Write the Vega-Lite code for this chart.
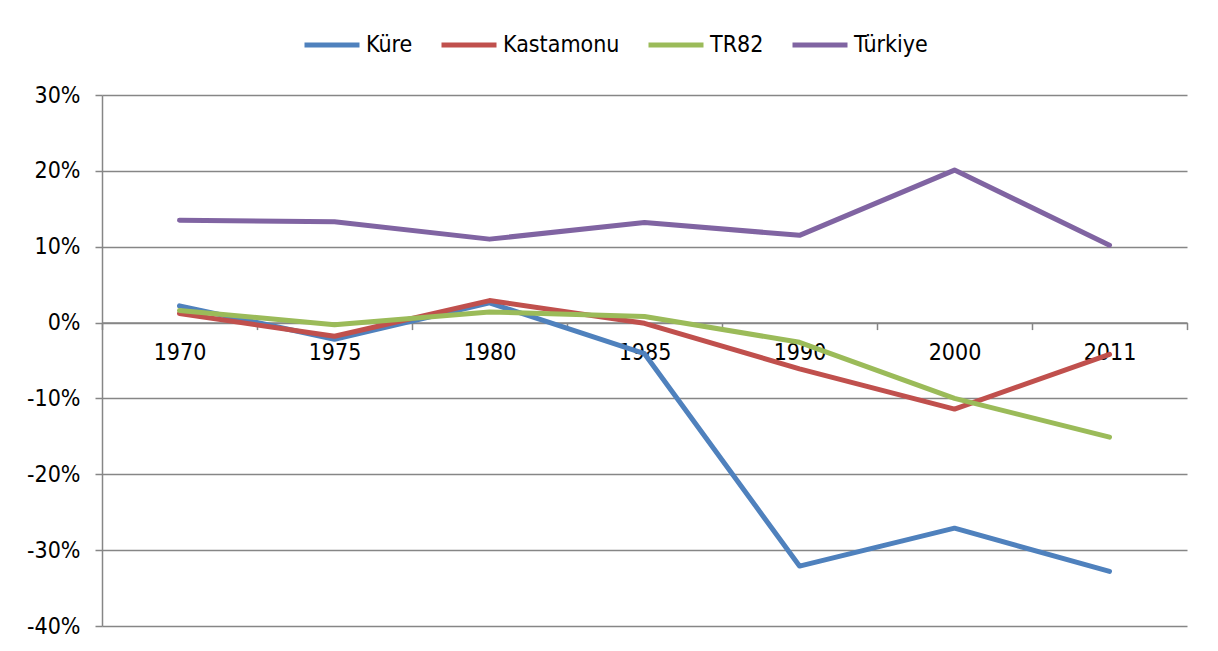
{
  "$schema": "https://vega.github.io/schema/vega-lite/v6.json",
  "width": 1085,
  "height": 531,
  "autosize": "none",
  "padding": {"left": 102, "top": 95, "right": 31, "bottom": 25},
  "background": "white",
  "config": {
    "view": {"stroke": null},
    "font": "DejaVu Sans Condensed, Liberation Sans, sans-serif"
  },
  "data": {
    "values": [
      {"yil": "1970", "bolge": "Küre", "deger": 0.022},
      {"yil": "1975", "bolge": "Küre", "deger": -0.022},
      {"yil": "1980", "bolge": "Küre", "deger": 0.026},
      {"yil": "1985", "bolge": "Küre", "deger": -0.041},
      {"yil": "1990", "bolge": "Küre", "deger": -0.321},
      {"yil": "2000", "bolge": "Küre", "deger": -0.271},
      {"yil": "2011", "bolge": "Küre", "deger": -0.328},
      {"yil": "1970", "bolge": "Kastamonu", "deger": 0.012},
      {"yil": "1975", "bolge": "Kastamonu", "deger": -0.018},
      {"yil": "1980", "bolge": "Kastamonu", "deger": 0.029},
      {"yil": "1985", "bolge": "Kastamonu", "deger": -0.001},
      {"yil": "1990", "bolge": "Kastamonu", "deger": -0.061},
      {"yil": "2000", "bolge": "Kastamonu", "deger": -0.114},
      {"yil": "2011", "bolge": "Kastamonu", "deger": -0.042},
      {"yil": "1970", "bolge": "TR82", "deger": 0.016},
      {"yil": "1975", "bolge": "TR82", "deger": -0.003},
      {"yil": "1980", "bolge": "TR82", "deger": 0.014},
      {"yil": "1985", "bolge": "TR82", "deger": 0.008},
      {"yil": "1990", "bolge": "TR82", "deger": -0.026},
      {"yil": "2000", "bolge": "TR82", "deger": -0.100},
      {"yil": "2011", "bolge": "TR82", "deger": -0.151},
      {"yil": "1970", "bolge": "Türkiye", "deger": 0.135},
      {"yil": "1975", "bolge": "Türkiye", "deger": 0.133},
      {"yil": "1980", "bolge": "Türkiye", "deger": 0.110},
      {"yil": "1985", "bolge": "Türkiye", "deger": 0.132},
      {"yil": "1990", "bolge": "Türkiye", "deger": 0.115},
      {"yil": "2000", "bolge": "Türkiye", "deger": 0.201},
      {"yil": "2011", "bolge": "Türkiye", "deger": 0.102}
    ]
  },
  "mark": {"type": "line", "strokeWidth": 5, "strokeCap": "round", "strokeJoin": "round"},
  "encoding": {
    "x": {
      "field": "yil",
      "type": "ordinal",
      "title": null,
      "scale": {"type": "band", "paddingInner": 0, "paddingOuter": 0},
      "axis": {
        "offset": -303.4,
        "tickBand": "extent",
        "domainColor": "#868686",
        "domainWidth": 1.5,
        "tickColor": "#868686",
        "tickWidth": 1.5,
        "tickSize": 7,
        "labelAngle": 0,
        "labelFontSize": 23,
        "labelColor": "black",
        "labelPadding": 12,
        "grid": false
      }
    },
    "y": {
      "field": "deger",
      "type": "quantitative",
      "title": null,
      "scale": {"domain": [-0.4, 0.3], "nice": false, "zero": false},
      "axis": {
        "values": [-0.4, -0.3, -0.2, -0.1, 0, 0.1, 0.2, 0.3],
        "labelExpr": "replace(format(datum.value, '.0%'), '−', '-')",
        "grid": true,
        "gridColor": "#868686",
        "gridWidth": 1.5,
        "domainColor": "#868686",
        "domainWidth": 1.5,
        "tickColor": "#868686",
        "tickWidth": 1.5,
        "tickSize": 7,
        "labelFontSize": 23,
        "labelColor": "black",
        "labelPadding": 15
      }
    },
    "color": {
      "field": "bolge",
      "type": "nominal",
      "title": null,
      "sort": ["Küre", "Kastamonu", "TR82", "Türkiye"],
      "scale": {
        "domain": ["Küre", "Kastamonu", "TR82", "Türkiye"],
        "range": ["#4F81BD", "#C0504D", "#9BBB59", "#8064A2"]
      },
      "legend": {
        "orient": "none",
        "direction": "horizontal",
        "legendX": 200,
        "legendY": -80,
        "symbolType": "stroke",
        "symbolSize": 3025,
        "symbolStrokeWidth": 5,
        "labelFontSize": 23,
        "labelColor": "black",
        "labelOffset": 4,
        "columnPadding": 18
      }
    }
  }
}
